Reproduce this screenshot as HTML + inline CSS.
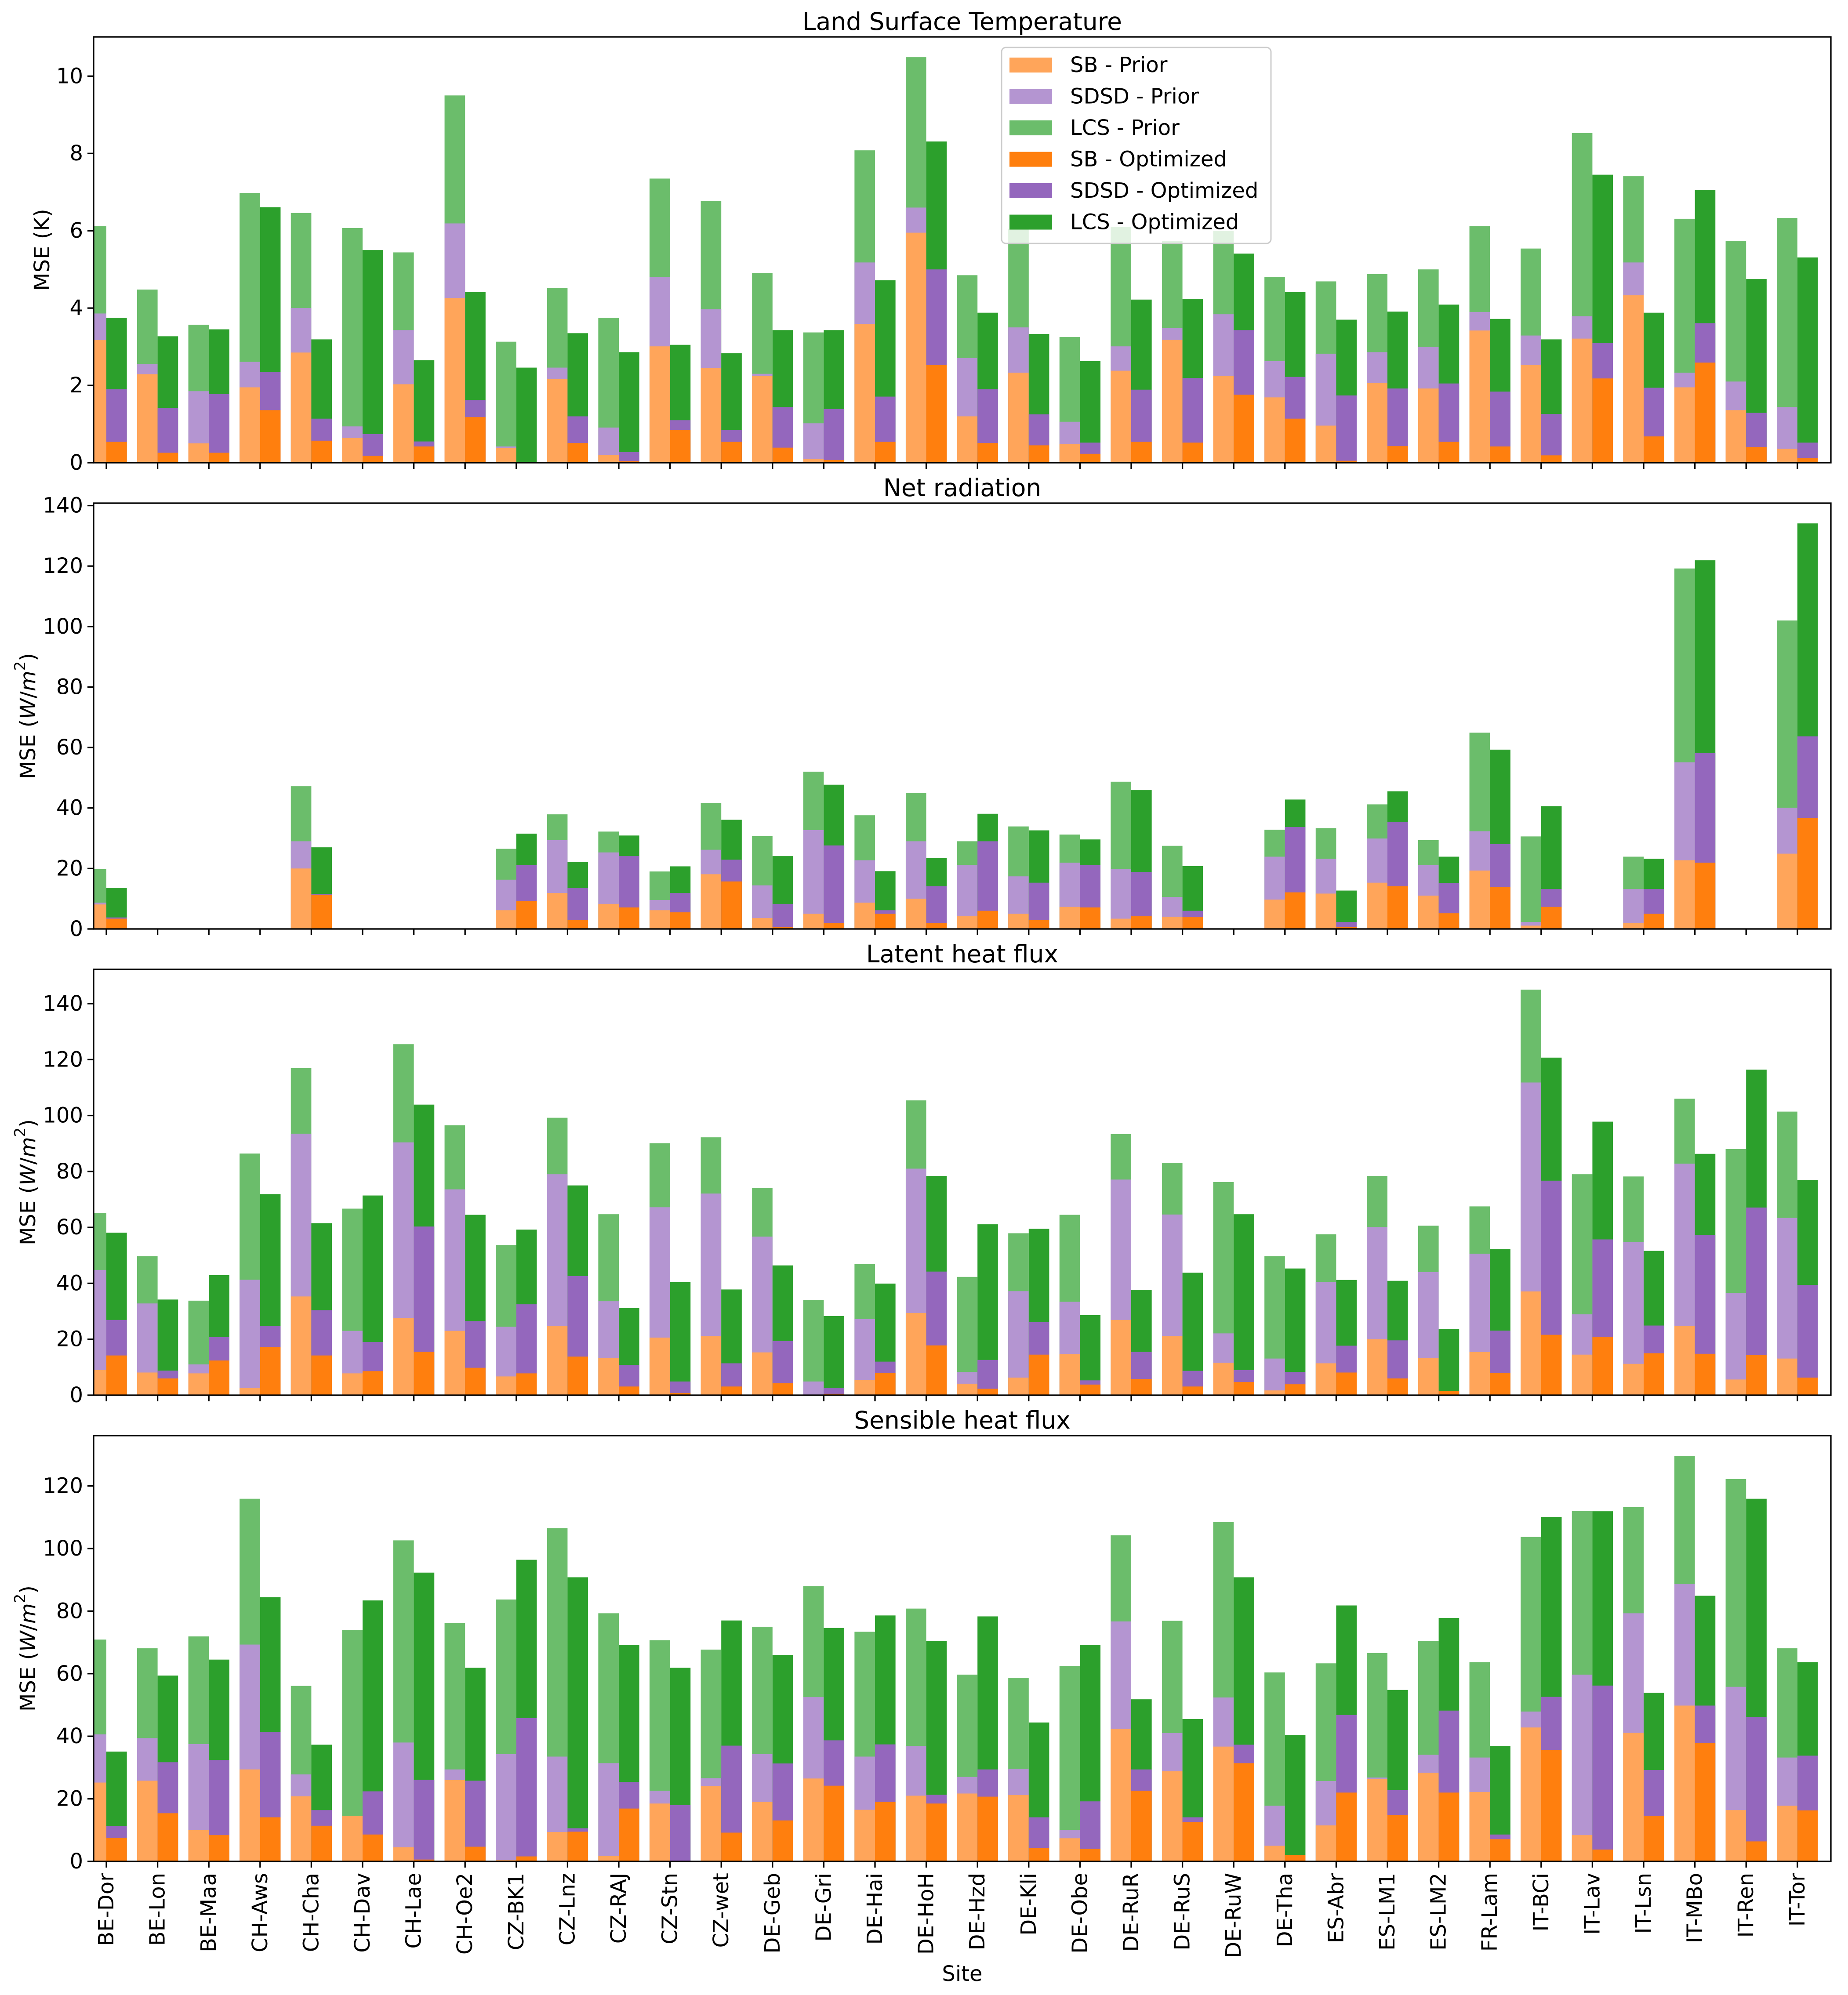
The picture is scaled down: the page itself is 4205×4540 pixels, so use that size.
<!DOCTYPE html>
<html><head><meta charset="utf-8"><style>
html,body{margin:0;padding:0;background:#fff}
svg{display:block;font-family:"DejaVu Sans","Liberation Sans",sans-serif}
</style></head><body>
<svg id="chart" xmlns="http://www.w3.org/2000/svg" width="4205" height="4540" viewBox="0 0 4205 4540"></svg>
<script>
const sites = ["BE-Dor","BE-Lon","BE-Maa","CH-Aws","CH-Cha","CH-Dav","CH-Lae","CH-Oe2","CZ-BK1","CZ-Lnz","CZ-RAJ","CZ-Stn","CZ-wet","DE-Geb","DE-Gri","DE-Hai","DE-HoH","DE-Hzd","DE-Kli","DE-Obe","DE-RuR","DE-RuS","DE-RuW","DE-Tha","ES-Abr","ES-LM1","ES-LM2","FR-Lam","IT-BCi","IT-Lav","IT-Lsn","IT-MBo","IT-Ren","IT-Tor"];

const lstSBPrior = [3.17,2.29,0.5,1.95,2.85,0.64,2.03,4.26,0.38,2.16,0.2,3.01,2.45,2.24,0.09,3.59,5.95,1.2,2.33,0.48,2.38,3.18,2.24,1.69,0.96,2.06,1.92,3.42,2.53,3.21,4.33,1.95,1.36,0.36];
const lstSDSDPrior = [3.86,2.55,1.85,2.61,4.0,0.94,3.43,6.19,0.42,2.46,0.91,4.8,3.97,2.3,1.02,5.18,6.6,2.71,3.5,1.06,3.01,3.48,3.84,2.63,2.82,2.86,3.0,3.9,3.29,3.79,5.18,2.33,2.1,1.44];
const lstLCSPrior = [6.12,4.48,3.57,6.98,6.46,6.07,5.44,9.5,3.13,4.52,3.75,7.35,6.77,4.91,3.37,8.08,10.49,4.85,6.05,3.25,6.1,5.74,6.0,4.8,4.69,4.88,5.0,6.12,5.54,8.53,7.41,6.31,5.74,6.33];
const lstSBOpt = [0.54,0.26,0.26,1.36,0.57,0.18,0.42,1.18,0,0.51,0.04,0.85,0.54,0.39,0.07,0.54,2.53,0.51,0.45,0.23,0.54,0.52,1.76,1.14,0.05,0.43,0.54,0.42,0.19,2.18,0.68,2.59,0.41,0.12];
const lstSDSDOpt = [1.90,1.42,1.78,2.35,1.14,0.74,0.55,1.62,0,1.2,0.28,1.1,0.85,1.44,1.39,1.71,5.0,1.9,1.25,0.52,1.89,2.19,3.43,2.22,1.74,1.92,2.05,1.84,1.26,3.1,1.94,3.61,1.29,0.52];
const lstLCSOpt = [3.75,3.27,3.45,6.61,3.19,5.5,2.65,4.41,2.46,3.35,2.86,3.05,2.83,3.43,3.43,4.72,8.31,3.88,3.33,2.63,4.22,4.24,5.41,4.41,3.7,3.91,4.09,3.72,3.19,7.45,3.88,7.05,4.75,5.31];

const nrSBPrior = [8.1,0,0,0,20,0,0,0,6.2,11.9,8.3,6.2,18.1,3.6,5.0,8.7,10,4.2,5.0,7.3,3.4,4.0,0,9.7,11.7,15.3,11,19.3,1.1,0,1.9,22.7,0,24.9];
const nrSDSDPrior = [8.7,0,0,0,29,0,0,0,16.3,29.4,25.3,9.6,26.2,14.4,32.7,22.7,29,21.2,17.4,21.9,19.9,10.6,0,23.9,23.2,29.9,21.1,32.3,2.3,0,13.2,55.1,0,40.1];
const nrLCSPrior = [19.8,0,0,0,47.2,0,0,0,26.5,37.9,32.2,19,41.6,30.7,52,37.6,45,29,33.9,31.2,48.7,27.5,0,32.8,33.3,41.2,29.4,64.9,30.6,0,23.9,119.2,0,102];
const nrSBOpt = [3.4,0,0,0,11.3,0,0,0,9.2,3.0,7.1,5.5,15.7,0.7,2.0,5.0,2.0,6.0,2.9,7.1,4.2,3.9,0,12.1,0.6,14.1,5.2,13.9,7.3,0,5.0,21.9,0,36.7];
const nrSDSDOpt = [3.8,0,0,0,11.6,0,0,0,21.1,13.5,24.1,11.9,22.9,8.3,27.6,6.2,14.1,29,15.3,21.1,18.8,6.0,0,33.7,2.3,35.3,15.2,28.1,13.2,0,13.2,58.2,0,63.7];
const nrLCSOpt = [13.5,0,0,0,27,0,0,0,31.5,22.2,30.9,20.7,36.1,24.1,47.7,19.1,23.5,38.1,32.6,29.6,45.9,20.8,0,42.8,12.7,45.5,23.9,59.3,40.6,0,23.2,121.9,0,134.1];

const lhSBPrior = [9.0,8.1,7.8,2.5,35.3,7.8,27.6,23,6.7,24.8,13.2,20.6,21.2,15.3,0,5.4,29.4,4.1,6.3,14.7,26.9,21.2,11.6,1.7,11.4,20,13.2,15.4,37.1,14.5,11.2,24.7,5.6,13.1];
const lhSDSDPrior = [44.8,32.8,11,41.3,93.5,23,90.4,73.6,24.5,79,33.6,67.2,72.1,56.7,4.9,27.2,81,8.3,37.2,33.4,77.1,64.6,22.1,13.1,40.5,60.1,44,50.6,111.8,28.9,54.7,82.8,36.6,63.4];
const lhLCSPrior = [65.2,49.7,33.8,86.4,116.9,66.7,125.5,96.5,53.7,99.2,64.7,90.1,92.2,74.1,34.1,46.9,105.4,42.3,57.9,64.5,93.4,83.1,76.2,49.7,57.5,78.4,60.6,67.5,145,79,78.2,106,88,101.4];
const lhSBOpt = [14.2,6.0,12.4,17.2,14.2,8.6,15.5,9.8,7.8,13.8,3.1,0.8,3.1,4.3,0.5,7.9,17.8,2.3,14.5,3.8,5.8,3.1,4.7,3.9,8.1,6.0,1.5,7.9,21.6,20.9,15,14.8,14.4,6.3];
const lhSDSDOpt = [26.9,8.8,20.8,24.8,30.4,19,60.3,26.5,32.5,42.6,10.8,4.9,11.4,19.4,2.5,12,44.2,12.6,26.1,5.3,15.5,8.7,9.0,8.3,17.7,19.6,1.5,23.1,76.7,55.7,24.9,57.3,67.1,39.4];
const lhLCSOpt = [58.1,34.2,42.9,71.9,61.5,71.4,103.9,64.5,59.2,75,31.2,40.4,37.8,46.4,28.3,39.9,78.4,61.1,59.5,28.6,37.7,43.8,64.7,45.3,41.2,40.9,23.6,52.2,120.7,97.8,51.6,86.3,116.4,77];

const shSBPrior = [25.2,25.8,10,29.4,20.8,14.6,4.5,26,0.4,9.4,1.7,18.5,24.1,19,26.5,16.5,21,21.7,21.2,7.4,42.4,28.8,36.7,5.0,11.5,26.3,28.3,22.2,42.8,8.4,41.1,49.8,16.4,17.8];
const shSDSDPrior = [40.6,39.4,37.5,69.3,27.8,14.6,38,29.4,34.3,33.5,31.4,22.6,26.6,34.3,52.5,33.5,36.9,27,29.6,10.1,76.7,41,52.4,17.8,25.7,26.8,34.1,33.2,47.9,59.7,79.3,88.6,55.8,33.2];
const shLCSPrior = [70.9,68.1,71.9,115.9,56.1,74,102.6,76.2,83.7,106.5,79.3,70.7,67.7,75,88,73.4,80.8,59.7,58.7,62.5,104.2,76.9,108.5,60.4,63.3,66.6,70.4,63.7,103.7,112,113.2,129.6,122.2,68.1];
const shSBOpt = [7.5,15.4,8.4,14.1,11.4,8.6,0.6,4.7,1.6,9.5,16.9,0.2,9.2,13.1,24.2,19,18.5,20.7,4.3,4.0,22.6,12.6,31.4,2.0,22,14.8,22,7.1,35.6,3.8,14.6,37.8,6.4,16.3];
const shSDSDOpt = [11.3,31.7,32.4,41.4,16.4,22.4,26.1,25.8,45.8,10.6,25.4,18,37,31.3,38.7,37.4,21.3,29.4,14.1,19.2,29.4,14.1,37.3,2.0,46.8,22.8,48.2,8.6,52.6,56.2,29.2,49.8,46.1,33.8];
const shLCSOpt = [35.1,59.4,64.5,84.4,37.3,83.4,92.3,61.9,96.4,90.8,69.2,61.9,77,66,74.6,78.6,70.4,78.3,44.4,69.2,51.8,45.5,90.8,40.4,81.8,54.8,77.8,36.9,110.1,111.9,53.9,84.9,115.9,63.7];

const lstTicks = [0,2,4,6,8,10];
const nrTicks = [0,20,40,60,80,100,120,140];
const lhTicks = [0,20,40,60,80,100,120,140];
const shTicks = [0,20,40,60,80,100,120];
const panelTitles = ["Land Surface Temperature","Net radiation","Latent heat flux","Sensible heat flux"];
const legendLabels = ["SB - Prior","SDSD - Prior","LCS - Prior","SB - Optimized","SDSD - Optimized","LCS - Optimized"];

const NS = "http://www.w3.org/2000/svg";
const svg = document.getElementById('chart');
const AX_L = 213, AX_R = 4166, AX_H = 969;
const X0 = 242, STEP = 116.6, BW = 0.4 * STEP;
const FS = 48, TFS = 55;
const COL = {sbP:"#ffa55a", sdP:"#b495d1", lcP:"#6bbd6b", sbO:"#ff7f0e", sdO:"#9467bd", lcO:"#2ca02c"};
function xPos(i){ return X0 + i * STEP; }
function mk(tag, attrs, parent){ const e = document.createElementNS(NS, tag); for (const k in attrs) e.setAttribute(k, attrs[k]); (parent||svg).appendChild(e); return e; }

const panels = [
  {key:"lst", ticks:lstTicks, data:[lstSBPrior,lstSDSDPrior,lstLCSPrior,lstSBOpt,lstSDSDOpt,lstLCSOpt], ylabel:"K"},
  {key:"nr", ticks:nrTicks, data:[nrSBPrior,nrSDSDPrior,nrLCSPrior,nrSBOpt,nrSDSDOpt,nrLCSOpt], ylabel:"W"},
  {key:"lh", ticks:lhTicks, data:[lhSBPrior,lhSDSDPrior,lhLCSPrior,lhSBOpt,lhSDSDOpt,lhLCSOpt], ylabel:"W"},
  {key:"sh", ticks:shTicks, data:[shSBPrior,shSDSDPrior,shLCSPrior,shSBOpt,shSDSDOpt,shLCSOpt], ylabel:"W"}
];

panels.forEach((p, k) => {
  const top = 84 + 1061 * k, bottom = top + AX_H;
  const all = [].concat(...p.data);
  const ymax = 1.05 * Math.max(...all);
  const yPos = v => bottom - v / ymax * AX_H;
  const g = mk('g', {});
  
  
  const clip = mk('clipPath', {id:'clip' + k}, g);
  mk('rect', {x:AX_L, y:top, width:AX_R-AX_L, height:AX_H}, clip);
  const bars = mk('g', {'clip-path':'url(#clip' + k + ')'}, g);
  
  
  const [sbP, sdP, lcP, sbO, sdO, lcO] = p.data;
  sites.forEach((s, i) => {
    const xp = xPos(i) - BW, xo = xPos(i);
    [[lcP, COL.lcP, xp, 'lcs-prior'], [sdP, COL.sdP, xp, 'sdsd-prior'], [sbP, COL.sbP, xp, 'sb-prior'],
     [lcO, COL.lcO, xo, 'lcs-optimized'], [sdO, COL.sdO, xo, 'sdsd-optimized'], [sbO, COL.sbO, xo, 'sb-optimized']].forEach(([arr, c, x, nm]) => {
      const v = arr[i];
      if (v <= 0) return;
      const r = mk('rect', {x:x, y:yPos(v), width:BW, height:bottom - yPos(v), fill:c}, bars);
      
      
    });
  });
  p.ticks.forEach(t => {
    const y = yPos(t);
    const tl = mk('line', {x1:AX_L-14, x2:AX_L, y1:y, y2:y, stroke:'#000', 'stroke-width':3.3}, g);
    
    
    const tx = mk('text', {x:AX_L-24, y:y, 'font-size':FS, 'text-anchor':'end', 'dominant-baseline':'central', fill:'#000'}, g);
    tx.textContent = String(t);
    
    
  });
  sites.forEach((s, i) => {
    const x = xPos(i);
    const tl = mk('line', {x1:x, x2:x, y1:bottom, y2:bottom+14, stroke:'#000', 'stroke-width':3.3}, g);
    
    
    if (k === 3) {
      const tx = mk('text', {x:0, y:0, 'font-size':FS, 'text-anchor':'end', 'dominant-baseline':'central', transform:'translate(' + x + ',' + (bottom + 26) + ') rotate(-90)', fill:'#000'}, g);
      tx.textContent = s;
      
      
    }
  });
  const fr = mk('rect', {x:AX_L, y:top, width:AX_R-AX_L, height:AX_H, fill:'none', stroke:'#000', 'stroke-width':3.3}, g);
  
  
  const ti = mk('text', {x:(AX_L+AX_R)/2, y:top-16, 'font-size':TFS, 'text-anchor':'middle', fill:'#000'}, g);
  ti.textContent = panelTitles[k];
  
  
  const yl = mk('text', {x:0, y:0, 'font-size':FS, 'text-anchor':'middle', 'dominant-baseline':'central', transform:'translate(' + (p.ylabel === 'K' ? 96 : 64) + ',' + ((top+bottom)/2) + ') rotate(-90)', fill:'#000'}, g);
  
  
  if (p.ylabel === 'K') { yl.textContent = 'MSE (K)'; }
  else {
    yl.innerHTML = 'MSE (<tspan font-style="italic">W</tspan>/<tspan font-style="italic">m</tspan><tspan font-size="34" dy="-18">2</tspan><tspan dy="18">)</tspan>';
  }
});

const xl = mk('text', {x:(AX_L+AX_R)/2, y:4508, 'font-size':FS, 'text-anchor':'middle', fill:'#000'});
xl.textContent = 'Site';



const lg = mk('g', {});


mk('rect', {x:2279, y:108, width:613, height:446, rx:10, fill:'#fff', 'fill-opacity':0.8, stroke:'#cccccc', 'stroke-width':3}, lg);
const legCols = [COL.sbP, COL.sdP, COL.lcP, COL.sbO, COL.sdO, COL.lcO];
legendLabels.forEach((lab, j) => {
  const cy = 148 + j * 71.5;
  const e = mk('g', {}, lg);
  
  
  mk('rect', {x:2297, y:cy-17, width:97, height:34, fill:legCols[j]}, e);
  const t = mk('text', {x:2435, y:cy, 'font-size':FS, 'dominant-baseline':'central', fill:'#000'}, e);
  t.textContent = lab;
});
</script>
</body></html>
